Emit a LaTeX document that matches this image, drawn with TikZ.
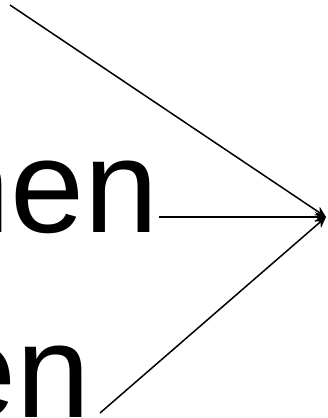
\documentclass[tikz,border=0pt]{standalone}
\usepackage{fontspec}
\setmainfont{Liberation Sans}
\usetikzlibrary{arrows.meta}
\begin{document}
\begin{tikzpicture}[x=1pt,y=-1pt,
  word/.style={inner sep=0pt,font=\fontsize{133}{133}\selectfont},
  link/.style={line width=1.5pt,-{Stealth[length=11pt,width=10pt]}}]
\useasboundingbox (0,0) rectangle (327,418);
\clip (0,0) rectangle (327,418);
\node[word,anchor=base east] (hen) at (159,232) {hen};
\node[word,anchor=base east] (en) at (91,417) {en};
\coordinate (T) at (326,217);
\coordinate (top) at (10,5);
\coordinate (low) at (100,413);
\draw[link] (top) -- (T);
\draw[link] (hen.east |- T) -- (T);
\draw[link] (low) -- (T);
\end{tikzpicture}
\end{document}
